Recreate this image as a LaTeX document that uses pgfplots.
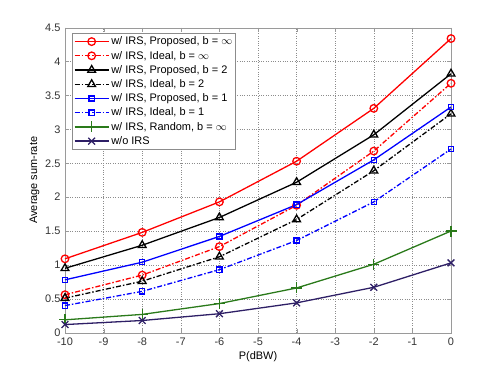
\documentclass[border=0pt]{standalone}
\usepackage{fontspec}
\setmainfont{Liberation Sans}
\usepackage{pgfplots}
\pgfplotsset{compat=1.18}
\definecolor{gridgray}{HTML}{8C8C8C}
\definecolor{axgray}{HTML}{9A9A9A}
\definecolor{mgreen}{HTML}{2A7A1A}
\definecolor{mnavy}{HTML}{2E1F66}
\pgfplotsset{
    legend image code/.code={%
        \draw[mark repeat=2, mark phase=2, #1]
            plot coordinates {(0bp,0bp) (17bp,0bp) (34bp,0bp)};},
    dashdot/.style={dash pattern=on 5pt off 2pt on 1.5pt off 2pt},
}
\begin{document}
\begin{tikzpicture}
\begin{axis}[
    width=386bp, height=305bp,
    scale only axis,
    xmin=-10, xmax=0, ymin=0, ymax=4.5,
    xtick={-10,-9,...,0},
    ytick={0,0.5,...,4.5},
    tick align=inside,
    axis line style={axgray},
    tick style={axgray},
    major tick length=4bp,
    grid=major,
    major grid style={gridgray, line width=0.4pt, dotted},
    font=\fontsize{11}{13}\selectfont,
    /pgf/number format/assume math mode=true,
    /pgf/number format/fixed,
    yticklabel style={text=black!80, xshift=-1bp},
    xticklabel style={text=black!80, yshift=-2bp},
    xlabel={P(dBW)},
    ylabel={Average sum-rate},
    xlabel style={yshift=1bp},
    ylabel style={yshift=-1bp},
    legend cell align=left,
    legend style={at={(0.019,0.982)}, anchor=north west, draw=gridgray,
        font=\fontsize{11}{13}\selectfont, inner sep=1.5bp,
        row sep=0.8bp},
    clip=false,
]
\coordinate (bl) at (rel axis cs:0,0);
\coordinate (tr) at (rel axis cs:1,1);
\addplot[red, line width=1.3pt, mark=o, mark size=3.8bp, mark options={solid}] coordinates {
(-10,1.09) (-8,1.48) (-6,1.93) (-4,2.53) (-2,3.31) (0,4.34)};
\addlegendentry{w/ IRS, Proposed, b = $\infty$}
\addplot[red, line width=1.3pt, dashdot, mark=o, mark size=3.8bp, mark options={solid}] coordinates {
(-10,0.56) (-8,0.85) (-6,1.27) (-4,1.88) (-2,2.68) (0,3.68)};
\addlegendentry{w/ IRS, Ideal, b = $\infty$}
\addplot[black, line width=1.3pt, mark=triangle, mark size=4.5bp, mark options={solid}] coordinates {
(-10,0.95) (-8,1.29) (-6,1.70) (-4,2.22) (-2,2.92) (0,3.82)};
\addlegendentry{w/ IRS, Proposed, b = 2}
\addplot[black, line width=1.3pt, dashdot, mark=triangle, mark size=4.5bp, mark options={solid}] coordinates {
(-10,0.51) (-8,0.76) (-6,1.12) (-4,1.67) (-2,2.39) (0,3.23)};
\addlegendentry{w/ IRS, Ideal, b = 2}
\addplot[blue, line width=1.3pt, mark=square, mark size=2.6bp, mark options={solid}] coordinates {
(-10,0.78) (-8,1.04) (-6,1.42) (-4,1.89) (-2,2.55) (0,3.33)};
\addlegendentry{w/ IRS, Proposed, b = 1}
\addplot[blue, line width=1.3pt, dashdot, mark=square, mark size=2.6bp, mark options={solid}] coordinates {
(-10,0.40) (-8,0.61) (-6,0.93) (-4,1.36) (-2,1.93) (0,2.71)};
\addlegendentry{w/ IRS, Ideal, b = 1}
\addplot[mgreen, line width=1.3pt, mark=+, mark size=5.5bp, mark options={solid}] coordinates {
(-10,0.19) (-8,0.27) (-6,0.43) (-4,0.66) (-2,1.01) (0,1.50)};
\addlegendentry{w/ IRS, Random, b = $\infty$}
\addplot[mnavy, line width=1.3pt, mark=x, mark size=4.8bp, mark options={solid}] coordinates {
(-10,0.12) (-8,0.18) (-6,0.28) (-4,0.44) (-2,0.67) (0,1.03)};
\addlegendentry{w/o IRS}
\end{axis}
\useasboundingbox ([shift={(-65bp,-41bp)}]bl) rectangle ([shift={(47bp,27.7bp)}]tr);
\end{tikzpicture}
\end{document}
